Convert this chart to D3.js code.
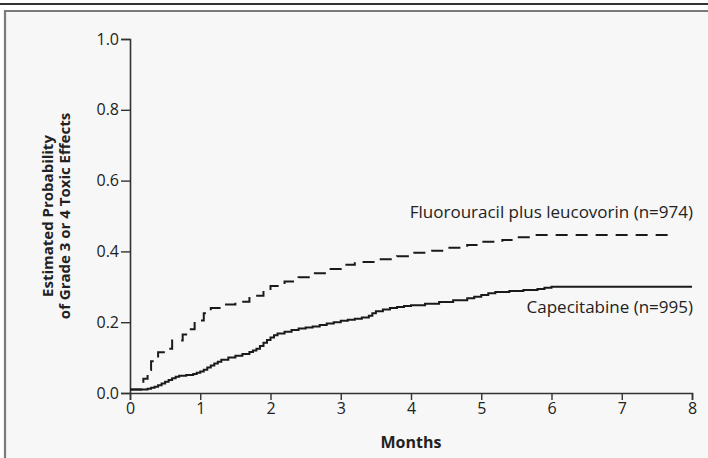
<!DOCTYPE html>
<html>
<head>
<meta charset="utf-8">
<script src="https://cdnjs.cloudflare.com/ajax/libs/d3/7.8.5/d3.min.js"></script>
<style>
  body { margin: 0; background: #fff; }
  text { font-family: "Open Sans", "Noto Sans", sans-serif; fill: #222; }
</style>
</head>
<body>
<div id="chart"></div>
<script>
// months and cumulative probability
var capeMonths = [0, 0.25, 0.3, 0.35, 0.4, 0.45, 0.5, 0.55, 0.6, 0.65, 0.7, 0.8, 0.9, 0.95, 1.0, 1.05, 1.1, 1.15, 1.2, 1.25, 1.3, 1.4, 1.5, 1.6, 1.7, 1.75, 1.8, 1.85, 1.9, 1.95, 2.0, 2.05, 2.1, 2.2, 2.3, 2.4, 2.5, 2.6, 2.7, 2.8, 2.9, 3.0, 3.1, 3.2, 3.3, 3.4, 3.45, 3.5, 3.6, 3.7, 3.8, 3.9, 4.0, 4.2, 4.4, 4.6, 4.8, 4.9, 5.0, 5.1, 5.2, 5.4, 5.6, 5.8, 5.9, 6.0, 8.0];
var capeValues = [0.01, 0.012, 0.015, 0.018, 0.022, 0.027, 0.032, 0.037, 0.042, 0.046, 0.049, 0.051, 0.054, 0.057, 0.061, 0.066, 0.072, 0.078, 0.083, 0.088, 0.094, 0.1, 0.105, 0.11, 0.116, 0.12, 0.125, 0.133, 0.142, 0.15, 0.157, 0.163, 0.168, 0.173, 0.178, 0.182, 0.185, 0.188, 0.192, 0.196, 0.2, 0.204, 0.207, 0.21, 0.213, 0.218, 0.225, 0.231, 0.236, 0.24, 0.243, 0.246, 0.248, 0.252, 0.257, 0.262, 0.268, 0.272, 0.277, 0.282, 0.285, 0.288, 0.291, 0.294, 0.297, 0.30, 0.30];

var fuMonths = [0, 0.19, 0.25, 0.3, 0.4, 0.5, 0.6, 0.75, 0.85, 0.92, 1.05, 1.15, 1.3, 1.5, 1.7, 1.9, 2.0, 2.2, 2.4, 2.6, 2.8, 3.0, 3.2, 3.5, 3.8, 4.0, 4.3, 4.5, 4.8, 5.0, 5.3, 5.5, 5.7, 7.66];
var fuValues = [0.01, 0.04, 0.065, 0.09, 0.115, 0.125, 0.148, 0.165, 0.18, 0.205, 0.225, 0.24, 0.25, 0.258, 0.275, 0.29, 0.302, 0.315, 0.327, 0.338, 0.35, 0.362, 0.37, 0.378, 0.386, 0.396, 0.402, 0.41, 0.418, 0.427, 0.432, 0.44, 0.446, 0.446];

var xTicks = [0, 1, 2, 3, 4, 5, 6, 7, 8];
var yTicks = [0, 0.2, 0.4, 0.6, 0.8, 1.0];

var w = 708, h = 458;

var svg = d3.select("#chart").append("svg")
  .attr("width", w)
  .attr("height", h);

// frame
svg.append("rect").attr("x", 0).attr("y", 3).attr("width", w).attr("height", 2).attr("fill", "#333");
svg.append("rect").attr("x", 5).attr("y", 12).attr("width", w - 5).attr("height", h - 12)
  .attr("fill", "#f7f7f7");
svg.append("path")
  .attr("d", "M5," + h + "V11H" + w)
  .attr("fill", "none")
  .attr("stroke", "#7a7a7a")
  .attr("stroke-width", 2.2);

var x = d3.scaleLinear().domain([0, 8]).range([130, 692]);
var y = d3.scaleLinear().domain([0, 1]).range([393, 39]);

var xAxis = svg.append("g")
  .attr("transform", "translate(0," + y(0) + ")")
  .call(d3.axisBottom(x).tickValues(xTicks).tickFormat(d3.format("d")).tickSizeOuter(0).tickSize(7).tickPadding(3));

var yAxis = svg.append("g")
  .attr("transform", "translate(" + x(0) + ",0)")
  .call(d3.axisLeft(y).tickValues(yTicks).tickFormat(d3.format(".1f")).tickSizeOuter(0).tickSize(9).tickPadding(2));

[xAxis, yAxis].forEach(function(g) {
  g.select(".domain").attr("stroke", "#333").attr("stroke-width", 1.6);
  g.selectAll(".tick line").attr("stroke", "#333").attr("stroke-width", 1.4);
  g.selectAll(".tick text")
    .attr("font-size", 16)
    .attr("font-family", "'Open Sans', sans-serif")
    .attr("fill", "#333");
});

var line = d3.line()
  .x(function(d) { return x(d[0]); })
  .y(function(d) { return y(d[1]); })
  .curve(d3.curveStepAfter);

var cape = d3.zip(capeMonths, capeValues);
var fu = d3.zip(fuMonths, fuValues);

svg.append("path")
  .datum(fu)
  .attr("d", line)
  .attr("fill", "none")
  .attr("stroke", "#1a1a1a")
  .attr("stroke-width", 2)
  .attr("stroke-dasharray", "12,8");

svg.append("path")
  .datum(cape)
  .attr("d", line)
  .attr("fill", "none")
  .attr("stroke", "#1a1a1a")
  .attr("stroke-width", 2);

// series labels
svg.append("text")
  .attr("x", 693).attr("y", 218)
  .attr("text-anchor", "end")
  .attr("font-size", 17)
  .attr("fill", "#333")
  .text("Fluorouracil plus leucovorin (n=974)");

svg.append("text")
  .attr("x", 693).attr("y", 313)
  .attr("text-anchor", "end")
  .attr("font-size", 17)
  .attr("fill", "#333")
  .text("Capecitabine (n=995)");

// axis titles
var yt = svg.append("text")
  .attr("transform", "translate(0," + ((y(0) + y(1)) / 2) + ") rotate(-90)")
  .attr("text-anchor", "middle")
  .attr("font-size", 15)
  .attr("font-weight", "bold");
yt.append("tspan").attr("x", 0).attr("y", 53).text("Estimated Probability");
yt.append("tspan").attr("x", 0).attr("y", 70).text("of Grade 3 or 4 Toxic Effects");

svg.append("text")
  .attr("x", (x(0) + x(8)) / 2).attr("y", 448)
  .attr("text-anchor", "middle")
  .attr("font-size", 16)
  .attr("font-weight", "bold")
  .text("Months");
</script>
</body>
</html>
